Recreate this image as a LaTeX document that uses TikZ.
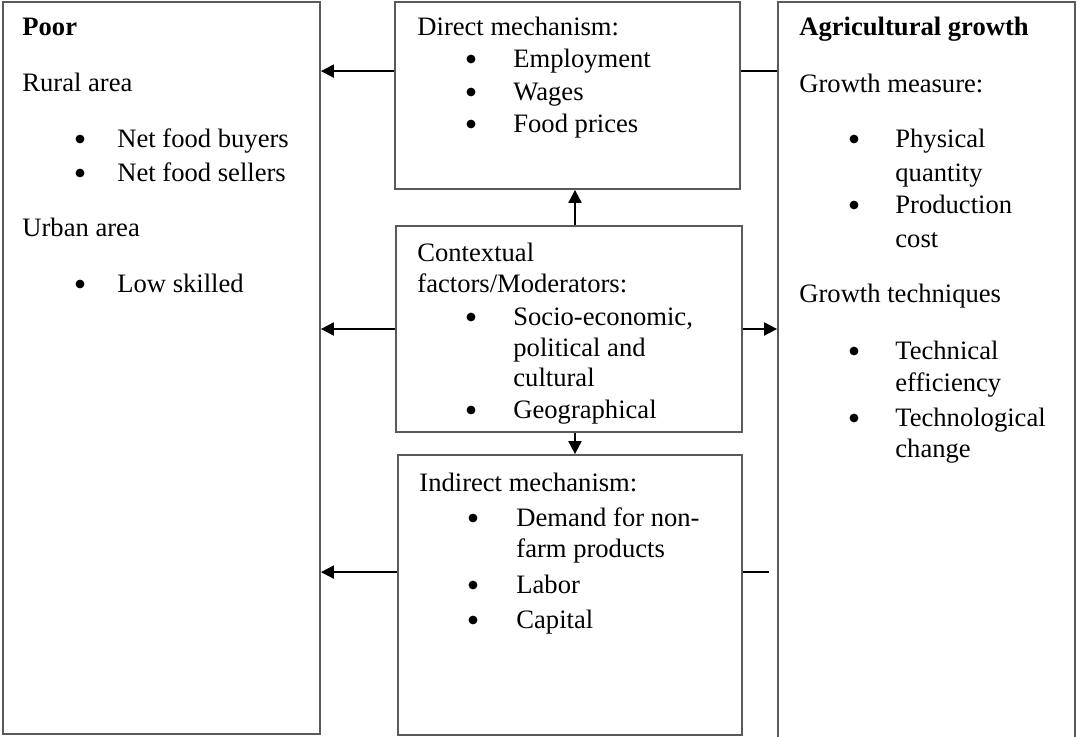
\documentclass[tikz,border=0pt]{standalone}
\usepackage{fontspec}
\setmainfont{Liberation Serif}
\definecolor{frame}{RGB}{90,90,90}
\usetikzlibrary{arrows.meta,positioning,fit,calc}
\newcommand{\diagfont}{\fontsize{13.3}{16}\selectfont}

\begin{document}
\begin{tikzpicture}[x=0.5pt, y=-0.5pt,
    box/.style={draw=frame, line width=0.9pt, inner sep=0pt},
    txt/.style={anchor=base west, inner sep=0pt, font=\diagfont},
    dot/.style={circle, fill=black, inner sep=0pt, minimum size=4.4pt},
    arr/.style={-{Triangle[length=6.5pt,width=6.5pt]}, line width=1pt}]
  \clip (0,0) rectangle (1077,737);
  % boxes
  \node[box, fit={(3,2) (320,734)}] (poor) {};
  \node[box, fit={(395,2) (740,189)}] (direct) {};
  \node[box, fit={(396,226) (742,432)}] (context) {};
  \node[box, fit={(398,455) (742,735)}] (indirect) {};
  \node[box, fit={(778,2) (1075,760)}] (agri) {};
  % poor
  \node[txt, font=\diagfont\bfseries] (poor-h) at (22,36) {Poor};
  \foreach \y/\t [count=\i] in {92/Rural area, 237/Urban area}
    \node[txt] (poor-s\i) at (22,\y) {\t};
  \foreach \y/\t [count=\i] in {148/Net food buyers, 182/Net food sellers, 293/Low skilled} {
    \node[dot] (poor-b\i) at (80,\y-9) {};
    \node[txt] (poor-i\i) at (117,\y) {\t};
  }
  % direct mechanism
  \node[txt] (direct-h) at (417,36) {Direct mechanism:};
  \foreach \y/\t [count=\i] in {68/Employment, 101/Wages, 133/Food prices} {
    \node[dot] (direct-b\i) at (471,\y-9) {};
    \node[txt] (direct-i\i) at (513,\y) {\t};
  }
  % contextual factors
  \node[txt] (context-h1) at (417,262) {Contextual};
  \node[txt] (context-h2) at (417,293) {factors/Moderators:};
  \foreach \y [count=\i] in {326,419}
    \node[dot] (context-b\i) at (471,\y-9) {};
  \foreach \y/\t [count=\i] in {326/{Socio-economic,}, 357/political and, 387/cultural, 419/Geographical}
    \node[txt] (context-i\i) at (513,\y) {\t};
  % indirect mechanism
  \node[txt] (indirect-h) at (419,492) {Indirect mechanism:};
  \foreach \y [count=\i] in {527,594,629}
    \node[dot] (indirect-b\i) at (473,\y-9) {};
  \foreach \y/\t [count=\i] in {527/Demand for non-, 558/farm products, 594/Labor, 629/Capital}
    \node[txt] (indirect-i\i) at (516,\y) {\t};
  % agricultural growth
  \node[txt, font=\diagfont\bfseries] (agri-h) at (799,36) {Agricultural growth};
  \foreach \y/\t [count=\i] in {93/Growth measure:, 303/Growth techniques}
    \node[txt] (agri-s\i) at (799,\y) {\t};
  \foreach \y [count=\i] in {148,214,360,427}
    \node[dot] (agri-b\i) at (854,\y-9) {};
  \foreach \y/\t [count=\i] in {148/Physical, 182/quantity, 214/Production, 248/cost, 360/Technical, 392/efficiency, 427/Technological, 458/change}
    \node[txt] (agri-i\i) at (895,\y) {\t};
  % links
  \draw[arr] ($(direct.north west)+(0,70)$) coordinate (d1) -- (d1 -| poor.east);
  \draw[line width=1pt] (agri.west |- d1) -- (direct.east |- d1);
  \draw[arr] ($(context.north)+(6,0)$) coordinate (c1) -- (c1 |- direct.south);
  \draw[arr] (context.west) -- (context.west -| poor.east);
  \draw[arr] (context.east) -- (context.east -| agri.west);
  \draw[arr] (c1 |- context.south) -- (c1 |- indirect.north);
  \draw[arr] ($(indirect.north west)+(0,118)$) coordinate (i1) -- (i1 -| poor.east);
  \draw[line width=1pt] (i1 -| indirect.east) -- ($(i1 -| agri.west)+(-8,0)$);
\end{tikzpicture}
\end{document}
